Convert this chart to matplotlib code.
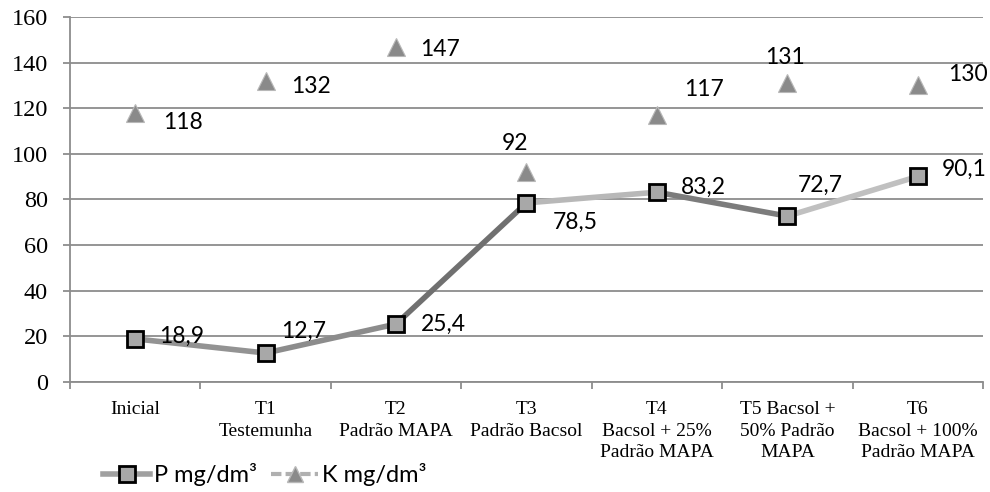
import numpy as np
import matplotlib.pyplot as plt
from matplotlib.collections import LineCollection
from matplotlib.lines import Line2D

plt.rcParams['font.family'] = ['Liberation Serif', 'DejaVu Serif']

categories = ["Inicial", "T1\nTestemunha", "T2\nPadrão MAPA", "T3\nPadrão Bacsol",
              "T4\nBacsol + 25%\nPadrão MAPA", "T5 Bacsol +\n50% Padrão\nMAPA",
              "T6\nBacsol + 100%\nPadrão MAPA"]
p_values = [18.9, 12.7, 25.4, 78.5, 83.2, 72.7, 90.1]
k_values = [118, 132, 147, 92, 117, 131, 130]
p_labels = ["18,9", "12,7", "25,4", "78,5", "83,2", "72,7", "90,1"]
k_labels = ["118", "132", "147", "92", "117", "131", "130"]

# label offsets in pixels (dx to left edge, dy to centre)
p_offsets = [(24, 3), (15, 22), (25, 0), (26, -19), (24, 5), (10, 31), (24, 7)]
k_offsets = [(28, -10), (25, -6), (24, -3), (-25, 29), (27, 26), (-22, 26), (30, 11)]
seg_colors = ["#939393", "#8c8c8c", "#707070", "#b8b8b8", "#7c7c7c", "#c0c0c0"]

fig = plt.figure(figsize=(9.9, 4.92), dpi=100)
ax = fig.add_axes([0.0707, 0.2236, 0.9222, 0.7419])

x = np.arange(len(categories))
pts = np.column_stack([x, p_values])
segs = np.stack([pts[:-1], pts[1:]], axis=1)
ax.add_collection(LineCollection(segs, colors=seg_colors, linewidths=4,
                                 capstyle="round", zorder=2))
ax.plot(x, p_values, linestyle="none", marker="s", markersize=12,
        markerfacecolor="#a8a8a8", markeredgecolor="black", markeredgewidth=2,
        zorder=3)
ax.plot(x, k_values, linestyle="none", marker="^", markersize=13,
        markerfacecolor="#8a8a8a", markeredgecolor="#b8b8b8", markeredgewidth=0.8,
        zorder=3)

for i in range(len(x)):
    ax.annotate(p_labels[i], (x[i], p_values[i]), xytext=p_offsets[i],
                textcoords="offset pixels", ha="left", va="center",
                fontsize=16.5, family="Lato")
    ax.annotate(k_labels[i], (x[i], k_values[i]), xytext=k_offsets[i],
                textcoords="offset pixels", ha="left", va="center",
                fontsize=16.5, family="Lato")

ax.set_xlim(-0.5, len(categories) - 0.5)
ax.set_ylim(0, 160)
ax.set_yticks(np.arange(0, 161, 20))
ax.yaxis.grid(True, color="#8c8c8c", linewidth=1.3)
ax.set_axisbelow(True)
ax.set_xticks(x)
ax.set_xticklabels(categories, linespacing=1.32)
ax.set_xticks(np.arange(-0.5, len(categories), 1), minor=True)
ax.tick_params(axis="x", which="major", length=0, pad=14, labelsize=14)
ax.tick_params(axis="x", which="minor", length=5, color="#8c8c8c", width=1.3)
ax.tick_params(axis="y", length=5, color="#8c8c8c", width=1.3, pad=11, labelsize=17.5)
for t in ax.get_yticklabels():
    t.set_fontfamily("Liberation Serif")

for side in ["top", "right"]:
    ax.spines[side].set_visible(False)
for side in ["left", "bottom"]:
    ax.spines[side].set_color("#8c8c8c")
    ax.spines[side].set_linewidth(1.3)

handles = [
    Line2D([], [], color="#a0a0a0", linewidth=4, marker="s", markersize=11,
           markerfacecolor="#a8a8a8", markeredgecolor="black", markeredgewidth=2),
    Line2D([], [], color="#b0b0b0", linewidth=3, linestyle=(0, (2.5, 1)), marker="^",
           markersize=12, markerfacecolor="#8a8a8a", markeredgecolor="#b8b8b8"),
]
fig.legend(handles, ["P mg/dm³", "K mg/dm³"], loc="center left",
           bbox_to_anchor=(0.09, 0.036), ncol=2, frameon=False,
           prop={"family": "Lato", "size": 17}, handlelength=2.0,
           handletextpad=0.15, columnspacing=0.6, borderpad=0.1)

fig.savefig("out.png", dpi=100)
